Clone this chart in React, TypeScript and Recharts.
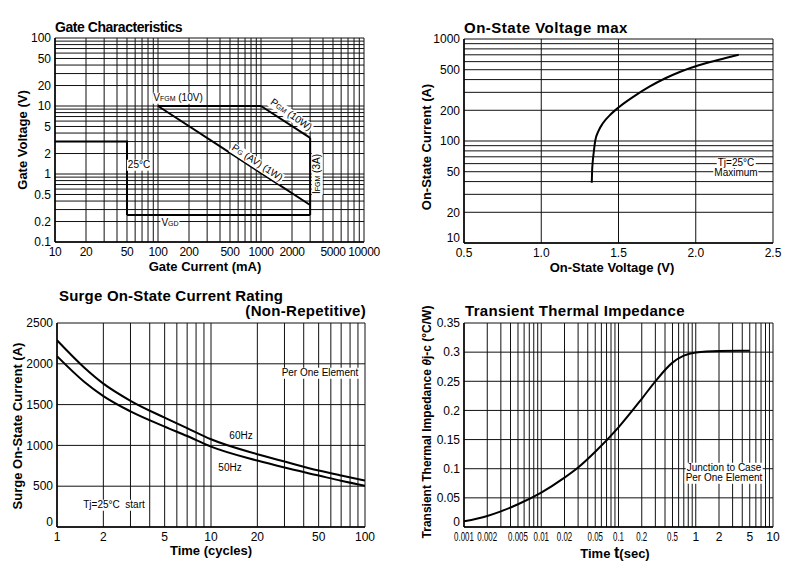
import React from 'react';
import { LineChart, Line, XAxis, YAxis, CartesianGrid } from 'recharts';

// ---- Gate Characteristics ----
const gateCurrentTicks = [10, 20, 30, 40, 50, 60, 70, 80, 90, 100, 200, 300, 400, 500, 600, 700, 800, 900, 1000, 2000, 3000, 4000, 5000, 6000, 7000, 8000, 9000, 10000];
const gateCurrentLabels = [10, 20, 50, 100, 200, 500, 1000, 2000, 5000, 10000];
const gateVoltageTicks = [0.1, 0.2, 0.3, 0.4, 0.5, 0.6, 0.7, 0.8, 0.9, 1, 2, 3, 4, 5, 6, 7, 8, 9, 10, 20, 30, 40, 50, 60, 70, 80, 90, 100];
const gateVoltageLabels = [0.1, 0.2, 0.5, 1, 2, 5, 10, 20, 50, 100];

const gate25C = [{ x: 10, y: 3 }, { x: 50, y: 3 }, { x: 50, y: 0.25 }];
const gateVgd = [{ x: 50, y: 0.25 }, { x: 3000, y: 0.25 }];
const gateVfgm = [{ x: 100, y: 10 }, { x: 1000, y: 10 }];
const gatePgm = [{ x: 1000, y: 10 }, { x: 3000, y: 3.4 }];
const gatePgav = [{ x: 100, y: 10 }, { x: 3000, y: 0.35 }];
const gateIfgm = [{ x: 3000, y: 3.4 }, { x: 3000, y: 0.25 }];

// ---- On-State Voltage max ----
const onVoltageTicks = [0.5, 1, 1.5, 2, 2.5];
const onCurrentTicks = [10, 20, 30, 40, 50, 60, 70, 80, 90, 100, 200, 300, 400, 500, 600, 700, 800, 900, 1000];
const onCurrentLabels = [10, 20, 50, 100, 200, 500, 1000];
const onVoltage = [1.327, 1.329, 1.333, 1.34, 1.349, 1.37, 1.4, 1.45, 1.5, 1.6, 1.7, 1.8, 1.9, 2.0, 2.1, 2.2, 2.278];
const onCurrent = [39, 50, 62, 78, 100, 125, 150, 183, 213, 274, 341, 410, 478, 540, 598, 655, 700];

// ---- Surge On-State Current ----
const surgeCycleTicks = [1, 2, 3, 4, 5, 6, 7, 8, 9, 10, 20, 30, 40, 50, 60, 70, 80, 90, 100];
const surgeCycleLabels = [1, 2, 5, 10, 20, 50, 100];
const surgeCurrentTicks = [0, 500, 1000, 1500, 2000, 2500];
const surgeCycles = [1, 1.5, 2, 3, 5, 7, 10, 20, 30, 50, 70, 100];
const surge60Hz = [2288, 1955, 1757, 1547, 1340, 1212, 1075, 892, 802, 692, 631, 570];
const surge50Hz = [2093, 1780, 1604, 1417, 1230, 1115, 985, 814, 729, 631, 566, 505];

// ---- Transient Thermal Impedance ----
const timeTicks = [0.001, 0.002, 0.003, 0.004, 0.005, 0.006, 0.007, 0.008, 0.009, 0.01, 0.02, 0.03, 0.04, 0.05, 0.06, 0.07, 0.08, 0.09, 0.1, 0.2, 0.3, 0.4, 0.5, 0.6, 0.7, 0.8, 0.9, 1, 2, 3, 4, 5, 6, 7, 8, 9, 10];
const timeLabels = [0.001, 0.002, 0.005, 0.01, 0.02, 0.05, 0.1, 0.2, 0.5, 1, 2, 5, 10];
const impedanceTicks = [0, 0.05, 0.1, 0.15, 0.2, 0.25, 0.3, 0.35];
const impedanceTime = [0.001, 0.002, 0.003, 0.005, 0.01, 0.02, 0.03, 0.05, 0.1, 0.2, 0.3, 0.5, 0.7, 1, 2, 5];
const impedance = [0.0097, 0.019, 0.0269, 0.039, 0.059, 0.0846, 0.102, 0.129, 0.171, 0.22, 0.25, 0.282, 0.294, 0.2995, 0.302, 0.3025];

const onData = onVoltage.map((v, i) => ({ x: v, y: onCurrent[i] }));
const surgeData = surgeCycles.map((c, i) => ({ x: c, a: surge60Hz[i], b: surge50Hz[i] }));
const thermalData = impedanceTime.map((t, i) => ({ x: t, y: impedance[i] }));

const FONT = "'Liberation Sans', Arial, Helvetica, sans-serif";
const tickStyle = { fontSize: 12, fill: '#000', fontFamily: FONT };
const axisLine = { stroke: '#000', strokeWidth: 1.5 };
const only = (list: number[], fmt?: (v: number) => string) => (v: number) =>
  list.includes(v) ? (fmt ? fmt(v) : String(v)) : '';

// y tick: lowest label nudged up a little so it clears the x labels
const yTick = (labels: number[] | null, bottom: number) => (props: any) => {
  const { x, y, payload } = props;
  const v = payload.value;
  if (labels && !labels.includes(v)) return null;
  return (
    <text x={x} y={v === bottom ? y - 5 : y} dy="0.355em" textAnchor="end" fontFamily={FONT} fontSize={12} fill="#000">
      {String(v)}
    </text>
  );
};

const GateXTick = (props: any) => {
  const { x, y, payload } = props;
  const v = payload.value;
  if (!gateCurrentLabels.includes(v)) return null;
  return (
    <text x={x} y={y} dy="0.71em" textAnchor="middle" fontFamily={FONT} fontSize={12} letterSpacing={-0.4} fill="#000">
      {String(v)}
    </text>
  );
};

// the reference squeezes the decimal time labels horizontally
const ThermalTick = (props: any) => {
  const { x, y, payload } = props;
  const v = payload.value;
  if (!timeLabels.includes(v)) return null;
  const s = String(v);
  const sx = s.length >= 3 ? 0.66 : 1;
  return (
    <g transform={`translate(${x},${y}) scale(${sx},1)`}>
      <text x={0} y={0} dy="0.71em" textAnchor="middle" fontFamily={FONT} fontSize={12} fill="#000">
        {s}
      </text>
    </g>
  );
};

const Txt = ({ x, y, children, size = 11, rotate = 0, bg = true, weight = 400, align = 'center', ls = 0 }: any) => (
  <div
    style={{
      position: 'absolute',
      left: x,
      top: y,
      transform: `translate(${align === 'left' ? '0' : align === 'right' ? '-100%' : '-50%'}, -50%) rotate(${rotate}deg)`,
      fontSize: size,
      fontWeight: weight,
      fontFamily: FONT,
      letterSpacing: ls,
      whiteSpace: 'nowrap',
      lineHeight: 1.05,
      background: bg ? '#fff' : 'transparent',
      padding: bg ? '0 1px' : 0,
      color: '#000',
    }}
  >
    {children}
  </div>
);

const Sub = ({ children }: any) => <span style={{ fontSize: 7 }}>{children}</span>;

const GateChart = () => (
  <LineChart width={400} height={285} margin={{ top: 38, right: 36, bottom: 18, left: 20 }}>
    <CartesianGrid stroke="#111" strokeWidth={1} />
    <XAxis type="number" dataKey="x" scale="log" domain={[10, 10000]} allowDataOverflow ticks={gateCurrentTicks}
      interval={0} tickLine={false} axisLine={axisLine} height={25} tickSize={3} tickMargin={2} tick={<GateXTick />} />
    <YAxis type="number" dataKey="y" scale="log" domain={[0.1, 100]} allowDataOverflow ticks={gateVoltageTicks}
      interval={0} tickLine={false} axisLine={axisLine} width={35} tickSize={2} tickMargin={2}
      tick={yTick(gateVoltageLabels, -1)} />
    {[gate25C, gateVgd, gateVfgm, gatePgm, gatePgav, gateIfgm].map((d, i) => (
      <Line key={i} data={d} dataKey="y" type="linear" stroke="#000" strokeWidth={2} dot={false} isAnimationActive={false} />
    ))}
  </LineChart>
);

const OnStateChart = () => (
  <LineChart width={400} height={285} margin={{ top: 39, right: 27, bottom: 17, left: 24 }}>
    <CartesianGrid stroke="#111" strokeWidth={1} />
    <XAxis type="number" dataKey="x" domain={[0.5, 2.5]} ticks={onVoltageTicks} interval={0}
      tickFormatter={(v: number) => v.toFixed(1)} tickLine={false} axisLine={axisLine} height={25}
      tickSize={3} tickMargin={2} tick={tickStyle} />
    <YAxis type="number" dataKey="y" scale="log" domain={[10, 1000]} allowDataOverflow ticks={onCurrentTicks}
      interval={0} tickLine={false} axisLine={axisLine} width={40} tickSize={2} tickMargin={2}
      tick={yTick(onCurrentLabels, 10)} />
    <Line data={onData} dataKey="y" type="monotone" stroke="#000" strokeWidth={2} dot={false} isAnimationActive={false} />
  </LineChart>
);

const SurgeChart = () => (
  <LineChart width={400} height={292} data={surgeData} margin={{ top: 38, right: 35, bottom: 25, left: 17 }}>
    <CartesianGrid stroke="#111" strokeWidth={1} />
    <XAxis type="number" dataKey="x" scale="log" domain={[1, 100]} allowDataOverflow ticks={surgeCycleTicks}
      interval={0} tickFormatter={only(surgeCycleLabels)} tickLine={false} axisLine={axisLine} height={25}
      tickSize={3} tickMargin={2} tick={tickStyle} />
    <YAxis type="number" domain={[0, 2500]} ticks={surgeCurrentTicks} interval={0} tickLine={false}
      axisLine={axisLine} width={40} tickSize={2} tickMargin={2} tick={yTick(null, 0)} />
    <Line dataKey="a" type="monotone" stroke="#000" strokeWidth={2} dot={false} isAnimationActive={false} />
    <Line dataKey="b" type="monotone" stroke="#000" strokeWidth={2} dot={false} isAnimationActive={false} />
  </LineChart>
);

const ThermalChart = () => (
  <LineChart width={400} height={292} data={thermalData} margin={{ top: 38, right: 27, bottom: 25, left: 24 }}>
    <CartesianGrid stroke="#111" strokeWidth={1} />
    <XAxis type="number" dataKey="x" scale="log" domain={[0.001, 10]} allowDataOverflow ticks={timeTicks}
      interval={0} tickLine={false} axisLine={axisLine} height={25} tickSize={3} tickMargin={2} tick={<ThermalTick />} />
    <YAxis type="number" domain={[0, 0.35]} ticks={impedanceTicks} interval={0} tickLine={false}
      axisLine={axisLine} width={40} tickSize={2} tickMargin={2} tick={yTick(null, 0)} />
    <Line dataKey="y" type="monotone" stroke="#000" strokeWidth={2} dot={false} isAnimationActive={false} />
  </LineChart>
);

export default function App() {
  return (
    <div style={{ position: 'absolute', left: 0, top: 0, width: 800, height: 577, background: '#fff', overflow: 'hidden', fontFamily: FONT }}>
      <div style={{ position: 'absolute', left: 0, top: 0 }}><GateChart /></div>
      <div style={{ position: 'absolute', left: 400, top: 0 }}><OnStateChart /></div>
      <div style={{ position: 'absolute', left: 0, top: 285 }}><SurgeChart /></div>
      <div style={{ position: 'absolute', left: 400, top: 285 }}><ThermalChart /></div>

      {/* Gate Characteristics */}
      <Txt x={55} y={27} size={14} weight={700} bg={false} align="left" ls={-0.45}>Gate Characteristics</Txt>
      <Txt x={23} y={140} size={13} weight={700} bg={false} rotate={-90}>Gate Voltage (V)</Txt>
      <Txt x={205} y={267} size={13} weight={700} bg={false}>Gate Current (mA)</Txt>
      <Txt x={178} y={98} size={10}>V<Sub>FGM</Sub> (10V)</Txt>
      <Txt x={291} y={115} size={10} rotate={35}>P<Sub>GM</Sub> (10W)</Txt>
      <Txt x={257} y={163} size={10} rotate={33}>P<Sub>G</Sub> (AV) (1W)</Txt>
      <Txt x={317} y={174} size={10} rotate={-90}>I<Sub>FGM</Sub> (3A)</Txt>
      <Txt x={139} y={165} size={10}>25°C</Txt>
      <Txt x={170} y={223} size={10}>V<Sub>GD</Sub></Txt>

      {/* On-State Voltage max */}
      <Txt x={464} y={28} size={15} weight={700} bg={false} align="left" ls={0.5}>On-State Voltage max</Txt>
      <Txt x={427} y={147} size={13} weight={700} bg={false} rotate={-90}>On-State Current (A)</Txt>
      <Txt x={612} y={268} size={13} weight={700} bg={false}>On-State Voltage (V)</Txt>
      <Txt x={736} y={163} size={10}>Tj=25°C</Txt>
      <Txt x={736} y={173} size={10}>Maximum</Txt>

      {/* Surge On-State Current Rating */}
      <Txt x={59} y={296} size={15} weight={700} bg={false} align="left" ls={0.2}>Surge On-State Current Rating</Txt>
      <Txt x={366} y={311} size={15} weight={700} bg={false} align="right" ls={0.3}>(Non-Repetitive)</Txt>
      <Txt x={18} y={426} size={13} weight={700} bg={false} rotate={-90}>Surge On-State Current (A)</Txt>
      <Txt x={211} y={551} size={13} weight={700} bg={false}>Time (cycles)</Txt>
      <Txt x={320} y={373} size={10}>Per One Element</Txt>
      <Txt x={241} y={436} size={10}>60Hz</Txt>
      <Txt x={230} y={468} size={10}>50Hz</Txt>
      <Txt x={114} y={505} size={10}>Tj=25°C&nbsp;&nbsp;start</Txt>

      {/* Transient Thermal Impedance */}
      <Txt x={465} y={311} size={15} weight={700} bg={false} align="left" ls={0.3}>Transient Thermal Impedance</Txt>
      <Txt x={427} y={422} size={12} weight={700} bg={false} rotate={-90}>Transient Thermal Impedance <i>θ</i>j-c (°C/W)</Txt>
      <Txt x={615} y={553} size={13} weight={700} bg={false}>Time <span style={{ fontSize: 16 }}>t</span>(sec)</Txt>
      <Txt x={724} y={468} size={10}>Junction to Case</Txt>
      <Txt x={724} y={478} size={10}>Per One Element</Txt>
    </div>
  );
}
